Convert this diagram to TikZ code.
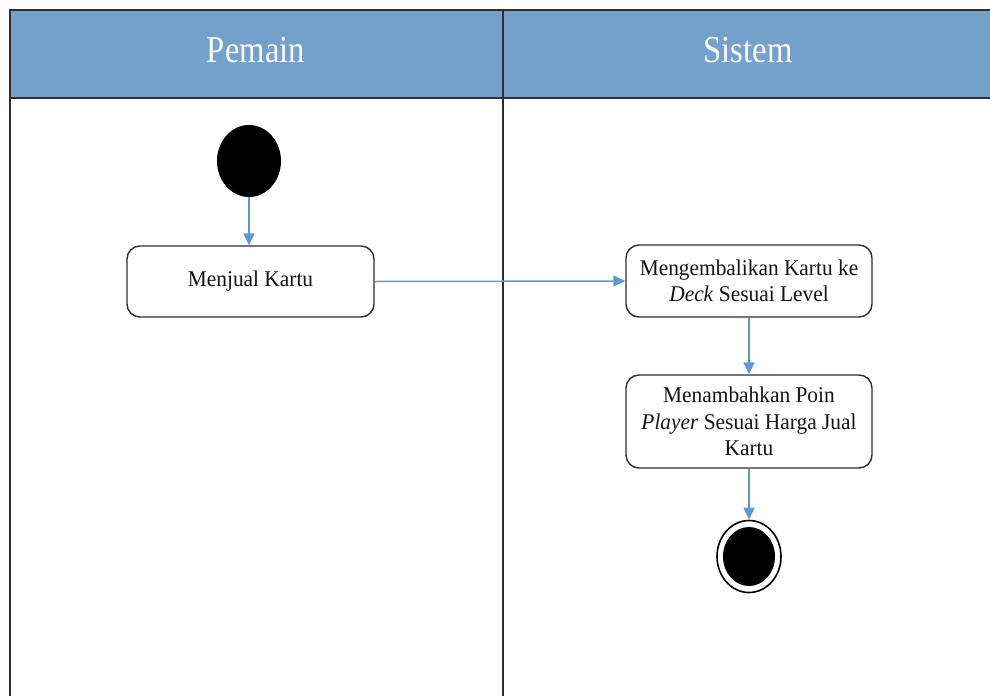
\documentclass[tikz,border=0pt]{standalone}
\usepackage{fontspec}
\setmainfont{Liberation Serif}
\newfontfamily\lanefont[FakeStretch=0.86]{Liberation Serif}
\newfontfamily\actfont[FakeStretch=0.95]{Liberation Serif}
\usetikzlibrary{arrows.meta,shapes.geometric}
\definecolor{lanehead}{RGB}{116,160,204}
\definecolor{flowline}{RGB}{91,155,213}
\definecolor{rulecol}{RGB}{45,45,52}
\definecolor{inkcol}{RGB}{20,20,20}
\begin{document}
\begin{tikzpicture}[x=1pt,y=-1pt,
  laneline/.style={draw=rulecol,line width=2pt},
  lanetitle/.style={text=white,font={\lanefont\fontsize{38}{44}\selectfont},inner sep=0pt},
  activity/.style={draw=rulecol,line width=1.4pt,rounded corners=13pt,fill=white,
    text=inkcol,align=center,inner sep=2pt,
    font={\actfont\fontsize{22.5}{26.5}\selectfont}},
  initialnode/.style={ellipse,fill=black,inner sep=0pt,minimum width=64pt,minimum height=72pt},
  finalring/.style={ellipse,draw=black,line width=1.6pt,fill=white,inner sep=0pt,minimum width=64pt,minimum height=72pt},
  finalcore/.style={ellipse,fill=black,inner sep=0pt,minimum width=52pt,minimum height=59pt},
  flow/.style={draw=flowline,line width=1.5pt,-{Triangle[length=12pt,width=11pt]}}]
\useasboundingbox (0,0) rectangle (990,696);

% swimlane frame
\fill[lanehead] (10,10) rectangle (990,97.5);
\draw[laneline] (990,10) -- (10,10) -- (10,696);
\draw[laneline] (10,97.5) -- (990,97.5);
\draw[laneline] (502.5,10) -- (502.5,696);
\node[lanetitle] (pemain) at (256,50) {Pemain};
\node[lanetitle] (sistem) at (748,50) {Sistem};

% activity nodes
\node[initialnode] (start) at (249,161) {};
\node[activity,minimum width=247pt,minimum height=71pt] (jual) at (250.5,281.5) {Menjual Kartu};
\node[activity,minimum width=246pt,minimum height=72pt] (kembali) at (749,281)
  {\fontsize{22.5}{29}\selectfont Mengembalikan Kartu ke\\\textit{Deck} Sesuai Level};
\node[activity,minimum width=246pt,minimum height=93pt] (tambah) at (749,421.5)
  {Menambahkan Poin\\\textit{Player} Sesuai Harga Jual\\Kartu};
\node[finalring] (akhir) at (749,556.5) {};
\node[finalcore] (akhirdalam) at (akhir.center) {};

% control flows
\draw[flow] (start.south) -- (start.south |- jual.north);
\draw[flow] (jual.east) -- (kembali.west);
\draw[flow] (kembali.south) -- (tambah.north);
\draw[flow] (tambah.south) -- (akhir.north);
\end{tikzpicture}
\end{document}
